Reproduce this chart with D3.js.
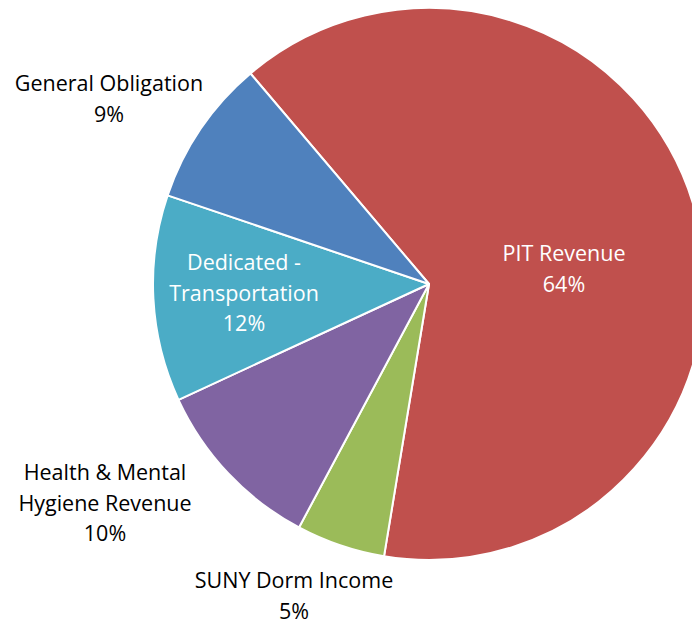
<!DOCTYPE html>
<html>
<head>
<meta charset="utf-8">
<script src="https://cdn.jsdelivr.net/npm/d3@7"></script>
<style>
  body { margin: 0; background: #fff; }
  svg { display: block; }
</style>
</head>
<body>
<svg id="chart"></svg>
<script>
// data
var categories = ["PIT Revenue", "SUNY Dorm Income", "Health & Mental Hygiene Revenue", "Dedicated - Transportation", "General Obligation"]
var shares = [63.8, 5.2, 10.3, 12.1, 8.6]
var labelLines = [
    ["PIT Revenue", "64%"],
    ["SUNY Dorm Income", "5%"],
    ["Health & Mental", "Hygiene Revenue", "10%"],
    ["Dedicated -", "Transportation", "12%"],
    ["General Obligation", "9%"]
]
var colors = ["#C0504D", "#9BBB59", "#8064A2", "#4BACC6", "#4F81BD"]

//dimensions
var dimensions = {width: 692, height: 624, cx: 429, cy: 284, radius: 276}

//label placement: x center and first baseline, white text inside slices
var labelLayout = [
    {x: 564, y: 261, fill: "white"},
    {x: 294, y: 588, fill: "black"},
    {x: 105, y: 480, fill: "black"},
    {x: 244, y: 270, fill: "white"},
    {x: 109, y: 91, fill: "black"}
]
var lineHeight = 30.5
var fontSize = 21.5

var svg = d3.select("#chart")
            .attr("width", dimensions.width)
            .attr("height", dimensions.height)

var startAngle = -40.3 * Math.PI / 180
var pie = d3.pie()
            .sort(null)
            .value(d => d)
            .startAngle(startAngle)
            .endAngle(startAngle + 2 * Math.PI)

var arc = d3.arc()
            .innerRadius(0)
            .outerRadius(dimensions.radius)

var slices = svg.append("g")
                .attr("transform", `translate(${dimensions.cx},${dimensions.cy})`)
                .selectAll("path")
                .data(pie(shares))
                .enter()
                .append("path")
                .attr("d", arc)
                .attr("fill", (d, i) => colors[i])
                .attr("stroke", "white")
                .attr("stroke-width", 2)
                .attr("stroke-linejoin", "round")

//labels
var labels = svg.append("g")
                .selectAll("text")
                .data(labelLines)
                .enter()
                .append("text")
                .attr("text-anchor", "middle")
                .attr("font-family", "'Open Sans', 'Liberation Sans', sans-serif")
                .attr("font-size", fontSize)
                .attr("fill", (d, i) => labelLayout[i].fill)

labels.each(function(lines, i) {
    var t = d3.select(this)
    lines.forEach((line, j) => {
        t.append("tspan")
         .attr("x", labelLayout[i].x)
         .attr("y", labelLayout[i].y + j * lineHeight)
         .text(line)
    })
})
</script>
</body>
</html>
